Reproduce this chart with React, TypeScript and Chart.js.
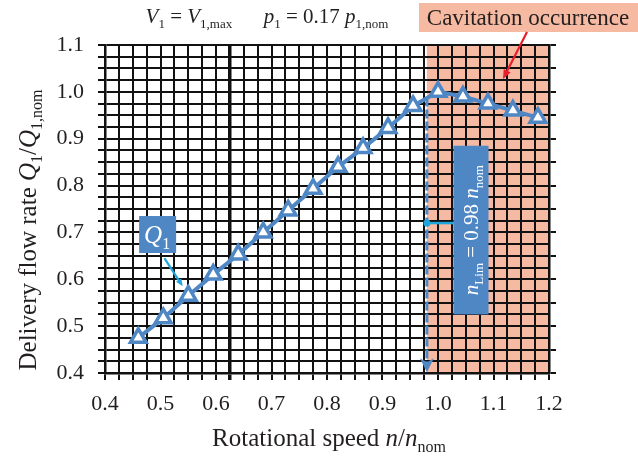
import { useEffect, useRef } from 'react';
import { Chart, registerables } from 'chart.js';
Chart.register(...registerables);

// ---- data ----
const speedRatio = [0.46, 0.505, 0.55, 0.595, 0.64, 0.685, 0.73, 0.775, 0.82, 0.865, 0.91, 0.955, 1.0, 1.045, 1.09, 1.135, 1.18];
const flowRatio = [0.475, 0.517, 0.565, 0.61, 0.653, 0.7, 0.747, 0.793, 0.84, 0.88, 0.923, 0.97, 1.0, 0.99, 0.975, 0.96, 0.945];
const nLim = 0.98;
const nLimLineY = [0.988, 0.41];
const xRange = [0.4, 1.2];
const yRange = [0.4, 1.1];
const cavitationRange = [0.98, 1.2];

const SERIF = "'Liberation Serif', 'Times New Roman', serif";
const BLUE = '#4f87c5';
const CYAN = '#1ea6dc';
const SALMON = '#f6b9a1';
const TEXT = '#231f20';

type Seg = { t: string; it?: boolean; sub?: boolean };

function segFont(s: Seg, size: number) {
  const sz = s.sub ? Math.round(size * 0.62) : size;
  return `${s.it ? 'italic ' : ''}${sz}px ${SERIF}`;
}
function richWidth(ctx: CanvasRenderingContext2D, segs: Seg[], size: number) {
  let w = 0;
  for (const s of segs) {
    ctx.font = segFont(s, size);
    w += ctx.measureText(s.t).width;
  }
  return w;
}
function drawRich(ctx: CanvasRenderingContext2D, segs: Seg[], x: number, y: number, size: number, color: string, align: 'left' | 'center' = 'left') {
  let cx = x;
  if (align === 'center') cx = x - richWidth(ctx, segs, size) / 2;
  ctx.fillStyle = color;
  ctx.textAlign = 'left';
  ctx.textBaseline = 'alphabetic';
  for (const s of segs) {
    ctx.font = segFont(s, size);
    ctx.fillText(s.t, cx, y + (s.sub ? size * 0.22 : 0));
    cx += ctx.measureText(s.t).width;
  }
}
function drawArrow(ctx: CanvasRenderingContext2D, x1: number, y1: number, x2: number, y2: number, color: string, w: number, head: number) {
  const a = Math.atan2(y2 - y1, x2 - x1);
  ctx.save();
  ctx.strokeStyle = color;
  ctx.fillStyle = color;
  ctx.lineWidth = w;
  ctx.beginPath();
  ctx.moveTo(x1, y1);
  ctx.lineTo(x2 - Math.cos(a) * head * 0.6, y2 - Math.sin(a) * head * 0.6);
  ctx.stroke();
  ctx.beginPath();
  ctx.moveTo(x2, y2);
  ctx.lineTo(x2 - head * Math.cos(a - 0.4), y2 - head * Math.sin(a - 0.4));
  ctx.lineTo(x2 - head * Math.cos(a + 0.4), y2 - head * Math.sin(a + 0.4));
  ctx.closePath();
  ctx.fill();
  ctx.restore();
}

const isMultiple = (v: number, step: number) => Math.abs(v / step - Math.round(v / step)) < 1e-6;

const decorPlugin = {
  id: 'decor',
  beforeDraw(chart: any) {
    const { ctx, chartArea, scales } = chart;
    ctx.save();
    ctx.fillStyle = '#ffffff';
    ctx.fillRect(0, 0, chart.width, chart.height);
    const x0 = scales.x.getPixelForValue(cavitationRange[0]);
    const x1 = scales.x.getPixelForValue(cavitationRange[1]);
    ctx.fillStyle = SALMON;
    ctx.fillRect(x0, chartArea.top, x1 - x0, chartArea.bottom - chartArea.top);
    ctx.restore();
  },
  afterDraw(chart: any) {
    const { ctx, scales, chartArea } = chart;
    const xs = scales.x, ys = scales.y;
    ctx.save();

    // arrow head of n_Lim line
    const ax = xs.getPixelForValue(nLim);
    const ay = ys.getPixelForValue(nLimLineY[1]);
    ctx.fillStyle = BLUE;
    ctx.beginPath();
    ctx.moveTo(ax, ay + 4);
    ctx.lineTo(ax - 7, ay - 10);
    ctx.lineTo(ax, ay - 6);
    ctx.lineTo(ax + 7, ay - 10);
    ctx.closePath();
    ctx.fill();

    // n_Lim label box with connector
    const connY = ys.getPixelForValue(0.72);
    const boxL = xs.getPixelForValue(1.028);
    const boxW = 35;
    const boxT = ys.getPixelForValue(0.885);
    const boxB = ys.getPixelForValue(0.525);
    ctx.strokeStyle = CYAN;
    ctx.lineWidth = 2.5;
    ctx.beginPath();
    ctx.moveTo(ax, connY);
    ctx.lineTo(boxL, connY);
    ctx.stroke();
    ctx.fillStyle = CYAN;
    ctx.beginPath();
    ctx.arc(ax, connY, 3.5, 0, Math.PI * 2);
    ctx.fill();
    ctx.fillStyle = BLUE;
    ctx.fillRect(boxL, boxT, boxW, boxB - boxT);
    ctx.save();
    ctx.translate(boxL + boxW / 2 + 7, (boxT + boxB) / 2);
    ctx.rotate(-Math.PI / 2);
    drawRich(ctx, [
      { t: 'n', it: true }, { t: 'Lim', sub: true }, { t: ' = 0.98 ' }, { t: 'n', it: true }, { t: 'nom', sub: true },
    ], 0, 0, 21, '#ffffff', 'center');
    ctx.restore();

    // Q1 label box with arrow
    const qx = xs.getPixelForValue(0.4615);
    const qy = ys.getPixelForValue(0.735);
    ctx.fillStyle = BLUE;
    ctx.fillRect(qx, qy, 37, 37);
    drawRich(ctx, [{ t: 'Q', it: true }, { t: '1', sub: true }], qx + 18, qy + 27, 25, '#ffffff', 'center');
    drawArrow(ctx, xs.getPixelForValue(0.507), ys.getPixelForValue(0.645), xs.getPixelForValue(0.54), ys.getPixelForValue(0.585), CYAN, 2.2, 8);

    // Title
    drawRich(ctx, [
      { t: 'V', it: true }, { t: '1', sub: true }, { t: ' = ' }, { t: 'V', it: true }, { t: '1,max', sub: true },
      { t: '      ' },
      { t: 'p', it: true }, { t: '1', sub: true }, { t: ' = 0.17 ' }, { t: 'p', it: true }, { t: '1,nom', sub: true },
    ], 267, 23, 21, TEXT, 'center');

    // Cavitation label
    ctx.fillStyle = SALMON;
    ctx.fillRect(419, 3, chart.width - 419, 29);
    drawRich(ctx, [{ t: 'Cavitation occurrence' }], 528, 25, 23, TEXT, 'center');
    drawArrow(ctx, 527, 32, 503, 79, '#e8202a', 2.2, 10);

    // Axis titles
    drawRich(ctx, [{ t: 'Rotational speed ' }, { t: 'n', it: true }, { t: '/' }, { t: 'n', it: true }, { t: 'nom', sub: true }],
      (chartArea.left + chartArea.right) / 2 + 2, 446, 25, TEXT, 'center');
    ctx.save();
    ctx.translate(36, 230);
    ctx.rotate(-Math.PI / 2);
    drawRich(ctx, [{ t: 'Delivery flow rate ' }, { t: 'Q', it: true }, { t: '1', sub: true }, { t: '/' }, { t: 'Q', it: true }, { t: '1,nom', sub: true }],
      0, 0, 25, TEXT, 'center');
    ctx.restore();

    ctx.restore();
  },
};

export default function App() {
  const ref = useRef<HTMLCanvasElement | null>(null);
  useEffect(() => {
    if (!ref.current) return;
    const chart = new Chart(ref.current, {
      type: 'line',
      data: {
        datasets: [
          {
            label: 'Q1',
            data: speedRatio.map((x, i) => ({ x, y: flowRatio[i] })),
            borderColor: BLUE,
            borderWidth: 4,
            pointStyle: 'triangle',
            pointRadius: 9,
            pointBorderWidth: 3.5,
            pointBackgroundColor: '#ffffff',
            pointBorderColor: BLUE,
            tension: 0,
            order: 0,
          },
          {
            label: 'nLim',
            data: nLimLineY.map((y) => ({ x: nLim, y })),
            borderColor: BLUE,
            borderWidth: 3,
            borderDash: [9, 3],
            pointRadius: 0,
            order: 1,
          },
        ],
      },
      options: {
        responsive: false,
        animation: false,
        layout: { padding: { top: 45, left: 0, right: 0, bottom: 0 } },
        plugins: { legend: { display: false }, tooltip: { enabled: false } },
        scales: {
          x: {
            type: 'linear',
            min: xRange[0],
            max: xRange[1],
            afterFit: (s: any) => { s.height = 84; },
            ticks: {
              stepSize: 0.025,
              autoSkip: false,
              maxTicksLimit: 100,
              maxRotation: 0,
              padding: 11,
              color: TEXT,
              font: { family: SERIF, size: 22 },
              callback: (v: any) => (isMultiple(Number(v), 0.1) ? Number(v).toFixed(1) : ''),
            },
            grid: {
              color: '#111',
              lineWidth: (c: any) => (c.tick && Math.abs(c.tick.value - 0.625) < 1e-6 ? 3.5 : 2),
              tickLength: 7,
            },
            border: { color: '#111', width: 2.5 },
          },
          y: {
            type: 'linear',
            min: yRange[0],
            max: yRange[1],
            afterFit: (s: any) => { s.width = 105; },
            ticks: {
              stepSize: 0.025,
              autoSkip: false,
              maxTicksLimit: 100,
              padding: 14,
              color: TEXT,
              font: { family: SERIF, size: 22 },
              callback: (v: any) => (isMultiple(Number(v), 0.1) ? Number(v).toFixed(1) : ''),
            },
            grid: { color: '#111', lineWidth: 2, tickLength: 7 },
            border: { color: '#111', width: 2.5 },
          },
          y2: {
            type: 'linear',
            position: 'right',
            min: yRange[0],
            max: yRange[1],
            afterFit: (s: any) => { s.width = 89; },
            ticks: { stepSize: 0.05, autoSkip: false, maxTicksLimit: 100, display: false },
            grid: { drawOnChartArea: false, color: '#111', lineWidth: 2, tickLength: 7 },
            border: { color: '#111', width: 2.5 },
          },
        },
      },
      plugins: [decorPlugin],
    });
    return () => chart.destroy();
  }, []);
  return (
    <div style={{ position: 'absolute', left: 0, top: 0, width: 638, height: 457 }}>
      <canvas ref={ref} width={638} height={457} style={{ width: 638, height: 457 }} />
    </div>
  );
}
